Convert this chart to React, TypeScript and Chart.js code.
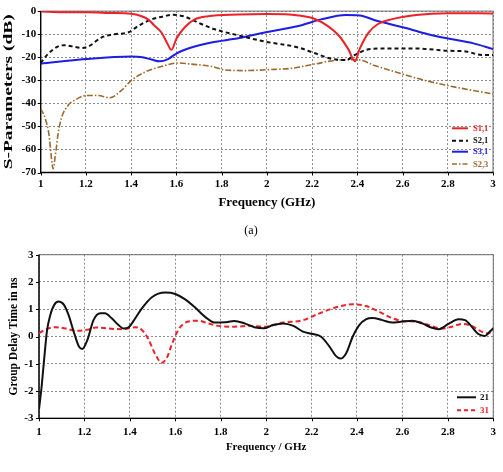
import { useEffect, useRef } from "react";
import { Chart, registerables } from "chart.js";

Chart.register(...registerables);

const SERIF = '"Liberation Serif", "Times New Roman", serif';

// ---- S-parameters (frequency in GHz, magnitude in dB) ----
const s11Freq = [1.0, 1.1, 1.2, 1.3, 1.4, 1.44, 1.475, 1.5, 1.534, 1.56, 1.578, 1.6, 1.637, 1.681, 1.74, 1.873, 2.0, 2.14, 2.21, 2.27, 2.32, 2.36, 2.39, 2.41, 2.45, 2.49, 2.55, 2.66, 2.8, 3.0];
const s11Db = [-0.2, -0.5, -0.5, -0.8, -1.2, -2.0, -3.6, -6.0, -9.3, -14, -16.8, -12, -7, -3.6, -2.2, -1.5, -1.3, -1.9, -3.3, -6.5, -10.8, -16.5, -21.8, -16.5, -9.3, -5.7, -3.6, -1.7, -0.9, -1.0];

const s21Freq = [1.0, 1.032, 1.077, 1.106, 1.14, 1.18, 1.21, 1.268, 1.327, 1.386, 1.43, 1.49, 1.548, 1.578, 1.637, 1.696, 1.77, 1.873, 1.99, 2.14, 2.21, 2.29, 2.35, 2.39, 2.44, 2.51, 2.66, 2.8, 2.88, 2.95, 3.0];
const s21Db = [-22.5, -18.6, -15.3, -14.8, -15.3, -16, -15.4, -11.5, -10, -9.3, -6.5, -3.6, -2.2, -1.6, -2.4, -5, -7.9, -10.5, -13.2, -15.8, -18.2, -20.8, -21.2, -19, -16.8, -16.2, -16.2, -17.2, -17.5, -19, -19];

const s31Freq = [1.0, 1.2, 1.4, 1.45, 1.49, 1.526, 1.563, 1.6, 1.666, 1.755, 1.873, 1.99, 2.14, 2.24, 2.35, 2.41, 2.49, 2.61, 2.73, 2.82, 2.91, 3.0];
const s31Db = [-22.8, -20.8, -19.7, -20, -21, -21.8, -20.8, -18.4, -15.8, -13.6, -11.8, -9.3, -6.5, -3.6, -1.7, -1.9, -4.3, -7.2, -10.5, -12.2, -13.9, -16.5];

const s23Freq = [1.0, 1.02, 1.037, 1.046, 1.055, 1.063, 1.069, 1.076, 1.091, 1.121, 1.15, 1.202, 1.254, 1.305, 1.357, 1.401, 1.46, 1.534, 1.607, 1.666, 1.755, 1.814, 1.9, 2.006, 2.11, 2.21, 2.32, 2.4, 2.48, 2.6, 2.7, 2.8, 2.91, 3.0];
const s23Db = [-42.3, -46.6, -53.8, -62.4, -68.4, -63.8, -59.5, -53.8, -46.6, -40.9, -38.7, -36.6, -36.6, -37.6, -34.4, -30, -26.5, -24, -22.5, -23, -24, -25.5, -25.8, -25.4, -24.8, -23, -21.2, -21.1, -23.7, -27.3, -30.1, -32.3, -34.4, -35.9];

// ---- Group delay (frequency in GHz, delay in ns) ----
const gd21Freq = [1.0, 1.012, 1.023, 1.035, 1.05, 1.067, 1.085, 1.11, 1.13, 1.155, 1.176, 1.19, 1.213, 1.24, 1.27, 1.29, 1.32, 1.35, 1.373, 1.395, 1.424, 1.453, 1.497, 1.555, 1.6, 1.642, 1.686, 1.73, 1.774, 1.817, 1.86, 1.905, 1.948, 1.99, 2.03, 2.075, 2.12, 2.162, 2.206, 2.242, 2.279, 2.308, 2.327, 2.352, 2.381, 2.41, 2.439, 2.468, 2.512, 2.556, 2.6, 2.643, 2.687, 2.73, 2.76, 2.803, 2.847, 2.876, 2.905, 2.934, 2.963, 2.985, 3.0];
const gd21Ns = [-2.67, -1.8, -0.8, 0.2, 0.8, 1.16, 1.28, 1.16, 0.79, 0.12, -0.37, -0.46, -0.13, 0.6, 0.85, 0.85, 0.67, 0.42, 0.29, 0.34, 0.67, 1.03, 1.44, 1.61, 1.56, 1.37, 1.07, 0.73, 0.51, 0.52, 0.57, 0.48, 0.34, 0.3, 0.42, 0.48, 0.39, 0.18, 0.09, -0.01, -0.37, -0.72, -0.81, -0.62, -0.01, 0.42, 0.63, 0.68, 0.6, 0.51, 0.55, 0.58, 0.48, 0.32, 0.27, 0.46, 0.63, 0.6, 0.36, 0.09, 0.02, 0.18, 0.3];

const gd31Freq = [1.0, 1.03, 1.074, 1.118, 1.16, 1.22, 1.25, 1.307, 1.366, 1.424, 1.453, 1.48, 1.51, 1.54, 1.562, 1.584, 1.613, 1.657, 1.7, 1.745, 1.79, 1.86, 1.934, 1.99, 2.075, 2.162, 2.235, 2.308, 2.381, 2.44, 2.497, 2.556, 2.6, 2.657, 2.716, 2.774, 2.818, 2.862, 2.905, 2.949, 2.978, 3.0];
const gd31Ns = [0.12, 0.26, 0.34, 0.29, 0.21, 0.26, 0.33, 0.29, 0.27, 0.34, 0.24, -0.07, -0.62, -0.96, -0.8, -0.31, 0.24, 0.55, 0.58, 0.48, 0.39, 0.36, 0.39, 0.36, 0.51, 0.6, 0.85, 1.07, 1.18, 1.12, 0.91, 0.67, 0.57, 0.55, 0.42, 0.29, 0.36, 0.46, 0.39, 0.18, 0.12, 0.26];

// ---- axis ticks ----
const freqTicks = [1, 1.2, 1.4, 1.6, 1.8, 2, 2.2, 2.4, 2.6, 2.8, 3];
const dbTicks = [0, -10, -20, -30, -40, -50, -60, -70];
const nsTicks = [3, 2, 1, 0, -1, -2, -3];

const RED = "#ec2228";
const BLACK = "#111111";
const BLUE = "#1d1de6";
const BROWN = "#9b6a2c";

type LegendItem = { label: string; color: string; dash: number[]; width: number };

type Decor = {
  yTitle: string;
  yTitleFont: string;
  yTitleX: number;
  yTitleLength?: number;
  xTitle: string;
  xTitleFont: string;
  xTitleY: number;
  legend: LegendItem[];
  legendX0: number;
  legendX1: number;
  legendTextX: number;
  legendYs: number[];
  legendFont: string;
  caption?: { text: string; x: number; y: number; font: string };
};

const pts = (xs: number[], ys: number[]) => xs.map((x, i) => ({ x, y: ys[i] }));

function decorPlugin(d: Decor) {
  return {
    id: "decor",
    beforeDatasetsDraw(chart: any) {
      const { ctx, chartArea: a } = chart;
      const xs = chart.scales.x;
      const ys = chart.scales.y;
      ctx.save();
      // plot frame
      ctx.strokeStyle = "#6f6f6f";
      ctx.lineWidth = 1;
      ctx.strokeRect(a.left, a.top, a.right - a.left, a.bottom - a.top);
      // axis lines
      ctx.strokeStyle = "#000";
      ctx.lineWidth = 1.3;
      ctx.beginPath();
      ctx.moveTo(a.left, a.top);
      ctx.lineTo(a.left, a.bottom);
      ctx.lineTo(a.right, a.bottom);
      ctx.stroke();
      // short outward tick marks
      ctx.lineWidth = 1;
      ctx.beginPath();
      xs.ticks.forEach((t: any) => {
        const px = Math.round(xs.getPixelForValue(t.value)) + 0.5;
        ctx.moveTo(px, a.bottom);
        ctx.lineTo(px, a.bottom + 3);
      });
      ys.ticks.forEach((t: any) => {
        const py = Math.round(ys.getPixelForValue(t.value)) + 0.5;
        ctx.moveTo(a.left - 3, py);
        ctx.lineTo(a.left, py);
      });
      ctx.stroke();
      ctx.restore();
    },
    afterDraw(chart: any) {
      const { ctx, chartArea: a } = chart;
      ctx.save();
      ctx.fillStyle = "#000";
      ctx.textAlign = "center";
      ctx.textBaseline = "middle";
      // y title
      ctx.save();
      ctx.font = d.yTitleFont;
      ctx.translate(d.yTitleX, (a.top + a.bottom) / 2);
      ctx.rotate(-Math.PI / 2);
      if (d.yTitleLength) {
        const w = ctx.measureText(d.yTitle).width;
        ctx.scale(d.yTitleLength / w, 1);
      }
      ctx.fillText(d.yTitle, 0, 0);
      ctx.restore();
      // x title
      ctx.font = d.xTitleFont;
      ctx.fillText(d.xTitle, (a.left + a.right) / 2, d.xTitleY);
      // legend
      ctx.textAlign = "left";
      ctx.font = d.legendFont;
      d.legend.forEach((it, i) => {
        const y = d.legendYs[i];
        ctx.strokeStyle = it.color;
        ctx.lineWidth = it.width;
        ctx.setLineDash(it.dash);
        ctx.beginPath();
        ctx.moveTo(d.legendX0, y);
        ctx.lineTo(d.legendX1, y);
        ctx.stroke();
        ctx.setLineDash([]);
        ctx.fillStyle = it.color;
        ctx.fillText(it.label, d.legendTextX, y + 0.5);
      });
      // caption
      if (d.caption) {
        ctx.fillStyle = "#000";
        ctx.textAlign = "center";
        ctx.font = d.caption.font;
        ctx.fillText(d.caption.text, d.caption.x, d.caption.y);
      }
      ctx.restore();
    },
  };
}

const tickFont = { family: SERIF, size: 11, weight: "bold" as const };

function scales(opts: {
  yMin: number;
  yMax: number;
  yWidth: number;
  xHeight: number;
  xPad: number;
  yPad: number;
  yList: number[];
}) {
  return {
    x: {
      type: "linear" as const,
      min: 1,
      max: 3,
      afterFit: (s: any) => {
        s.height = opts.xHeight;
      },
      afterBuildTicks: (s: any) => {
        s.ticks = freqTicks.map((v) => ({ value: v }));
      },
      ticks: {
        padding: opts.xPad,
        color: "#000",
        font: tickFont,
        maxRotation: 0,
        autoSkip: false,
        callback: (v: any) => String(Math.round(Number(v) * 10) / 10),
      },
      grid: { color: "#8c8c8c", lineWidth: 1, drawTicks: false },
      border: { display: false, dash: [2, 2] },
    },
    y: {
      type: "linear" as const,
      min: opts.yMin,
      max: opts.yMax,
      afterFit: (s: any) => {
        s.width = opts.yWidth;
      },
      afterBuildTicks: (s: any) => {
        s.ticks = opts.yList.map((v) => ({ value: v }));
      },
      ticks: {
        padding: opts.yPad,
        color: "#000",
        font: tickFont,
        autoSkip: false,
        callback: (v: any) => String(v),
      },
      grid: { color: "#8c8c8c", lineWidth: 1, drawTicks: false },
      border: { display: false, dash: [2, 2] },
    },
  };
}

const line = (label: string, data: any, color: string, dash: number[], width: number) => ({
  label,
  data,
  borderColor: color,
  backgroundColor: color,
  borderWidth: width,
  borderDash: dash,
  pointRadius: 0,
  fill: false,
  cubicInterpolationMode: "monotone" as const,
});

export default function App() {
  const topRef = useRef<HTMLCanvasElement | null>(null);
  const bottomRef = useRef<HTMLCanvasElement | null>(null);

  useEffect(() => {
    const top = new Chart(topRef.current as HTMLCanvasElement, {
      type: "line",
      data: {
        datasets: [
          line("S1,1", pts(s11Freq, s11Db), RED, [], 2),
          line("S2,1", pts(s21Freq, s21Db), BLACK, [4, 3], 2),
          line("S3,1", pts(s31Freq, s31Db), BLUE, [], 2),
          line("S2,3", pts(s23Freq, s23Db), BROWN, [6, 2, 1.5, 2], 1.6),
        ],
      },
      options: {
        responsive: false,
        animation: false,
        devicePixelRatio: 1,
        layout: { padding: { left: 0, right: 10, top: 10, bottom: 0 } },
        scales: scales({ yMin: -70, yMax: 0, yWidth: 40.7, xHeight: 67.5, xPad: 5, yPad: 4.5, yList: dbTicks }),
        plugins: { legend: { display: false }, tooltip: { enabled: false } },
      },
      plugins: [
        decorPlugin({
          yTitle: "S-Parameters (dB)",
          yTitleFont: `bold 13px ${SERIF}`,
          yTitleX: 9,
          yTitleLength: 155,
          xTitle: "Frequency (GHz)",
          xTitleFont: `bold 13px ${SERIF}`,
          xTitleY: 202.5,
          legend: [
            { label: "S1,1", color: RED, dash: [], width: 2 },
            { label: "S2,1", color: BLACK, dash: [4, 3], width: 2 },
            { label: "S3,1", color: BLUE, dash: [], width: 2 },
            { label: "S2,3", color: BROWN, dash: [5, 2, 1.5, 2], width: 1.6 },
          ],
          legendX0: 452,
          legendX1: 468,
          legendTextX: 473,
          legendYs: [128.3, 140.7, 151.7, 164],
          legendFont: `bold 8.5px ${SERIF}`,
          caption: { text: "(a)", x: 251, y: 231, font: `12px ${SERIF}` },
        }),
      ],
    } as any);

    const bottom = new Chart(bottomRef.current as HTMLCanvasElement, {
      type: "line",
      data: {
        datasets: [
          line("21", pts(gd21Freq, gd21Ns), BLACK, [], 2),
          line("31", pts(gd31Freq, gd31Ns), RED, [5, 3], 2),
        ],
      },
      options: {
        responsive: false,
        animation: false,
        devicePixelRatio: 1,
        layout: { padding: { left: 0, right: 6.3, top: 14.7, bottom: 0 } },
        scales: scales({ yMin: -3, yMax: 3, yWidth: 39, xHeight: 53.7, xPad: 7, yPad: 5.5, yList: nsTicks }),
        plugins: { legend: { display: false }, tooltip: { enabled: false } },
      },
      plugins: [
        decorPlugin({
          yTitle: "Group Delay Time in ns",
          yTitleFont: `bold 11.5px ${SERIF}`,
          yTitleX: 14,
          xTitle: "Frequency / GHz",
          xTitleFont: `bold 11px ${SERIF}`,
          xTitleY: 206.7,
          legend: [
            { label: "21", color: BLACK, dash: [], width: 2 },
            { label: "31", color: RED, dash: [4, 3], width: 2 },
          ],
          legendX0: 457,
          legendX1: 476,
          legendTextX: 480,
          legendYs: [157.3, 170.3],
          legendFont: `bold 9px ${SERIF}`,
        }),
      ],
    } as any);

    return () => {
      top.destroy();
      bottom.destroy();
    };
  }, []);

  return (
    <div style={{ position: "fixed", left: 0, top: 0, width: 503, height: 472, background: "#fff" }}>
      <canvas ref={topRef} width={503} height={240} style={{ position: "absolute", left: 0, top: 0, width: 503, height: 240 }} />
      <canvas ref={bottomRef} width={503} height={232} style={{ position: "absolute", left: 0, top: 240, width: 503, height: 232 }} />
    </div>
  );
}
